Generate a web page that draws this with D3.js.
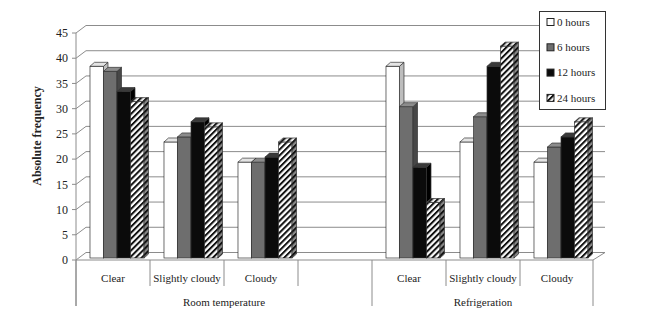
<!DOCTYPE html>
<html lang="en">
<head>
    <meta charset="UTF-8">
    <title>Absolute frequency by storage and turbidity</title>
    <script src="https://d3js.org/d3.v7.min.js"></script>
    <style>
        body { margin: 0; background: #fff; }
        text { font-family: "Liberation Serif", "DejaVu Serif", serif; fill: #222; }
    </style>
</head>
<body>
<div id="chart"></div>
<script>
// Data
const categories = ["Clear", "Slightly cloudy", "Cloudy", "", "Clear", "Slightly cloudy", "Cloudy"];
const groups = ["Room temperature", "Refrigeration"];
const groupSpans = [4, 3];
const series = ["0 hours", "6 hours", "12 hours", "24 hours"];
const h0 = [38, 23, 19, null, 38, 23, 19];
const h6 = [37, 24, 19, null, 30, 28, 22];
const h12 = [33, 27, 20, null, 18, 38, 24];
const h24 = [31, 26, 23, null, 11, 42, 27];
const yTicks = [0, 5, 10, 15, 20, 25, 30, 35, 40, 45];

const values = [h0, h6, h12, h24];

const W = 666, H = 312;
const svg = d3.select("#chart").append("svg").attr("width", W).attr("height", H);

// hatch patterns
const defs = svg.append("defs");
function hatch(id, bg) {
    const p = defs.append("pattern").attr("id", id)
        .attr("patternUnits", "userSpaceOnUse")
        .attr("width", 4.2).attr("height", 4.2)
        .attr("patternTransform", "rotate(45)");
    p.append("rect").attr("width", 4.2).attr("height", 4.2).attr("fill", bg);
    p.append("rect").attr("width", 2).attr("height", 4.2).attr("fill", "#111");
}
hatch("hatch", "#fff");
hatch("hatchSide", "#8a8a8a");
hatch("hatchTop", "#e8e8e8");

// fills: front, side, top
const styles = [
    { front: "#fff", side: "#bdbdbd", top: "#e4e4e4" },
    { front: "#6e6e6e", side: "#474747", top: "#8c8c8c" },
    { front: "#0b0b0b", side: "#000", top: "#3a3a3a" },
    { front: "url(#hatch)", side: "url(#hatchSide)", top: "url(#hatchTop)" }
];

// scales
const x0 = d3.scaleBand().domain(d3.range(categories.length)).range([76, 594])
    .paddingInner(0.27).paddingOuter(0.135);
const x1 = d3.scaleBand().domain(series).range([0, x0.bandwidth()]);
const y = d3.scaleLinear().domain([0, 45]).range([260, 33]);

// wall depth
const wallLeftDx = 10, wallRightDx = 12, wallDy = -7.5;
const gridColor = "#8c8c8c";
const xFrontL = 76, xFrontR = 593;

// back wall gridlines + side wall diagonals
const grid = svg.append("g");
yTicks.forEach(t => {
    grid.append("line")
        .attr("x1", xFrontL).attr("y1", y(t))
        .attr("x2", xFrontL + wallLeftDx).attr("y2", y(t) + wallDy)
        .attr("stroke", gridColor);
    grid.append("line")
        .attr("x1", xFrontL + wallLeftDx).attr("y1", y(t) + wallDy)
        .attr("x2", xFrontR + wallRightDx).attr("y2", y(t) + wallDy)
        .attr("stroke", gridColor);
});
// floor front edge and right edge
grid.append("line").attr("x1", xFrontL).attr("x2", xFrontR)
    .attr("y1", y(0)).attr("y2", y(0)).attr("stroke", gridColor);
grid.append("line").attr("x1", xFrontR).attr("y1", y(0))
    .attr("x2", xFrontR + wallRightDx).attr("y2", y(0) + wallDy).attr("stroke", gridColor);

// y axis
const yAxis = svg.append("g");
yAxis.append("line").attr("x1", xFrontL).attr("x2", xFrontL)
    .attr("y1", y(45)).attr("y2", 306).attr("stroke", gridColor);
yTicks.forEach(t => {
    yAxis.append("line").attr("x1", xFrontL - 4).attr("x2", xFrontL)
        .attr("y1", y(t)).attr("y2", y(t)).attr("stroke", gridColor);
    yAxis.append("text").attr("x", 68).attr("y", y(t))
        .attr("dy", "0.35em").attr("text-anchor", "end")
        .style("font-size", "12px").text(t);
});

svg.append("text")
    .attr("transform", "translate(41,136) rotate(-90)")
    .attr("text-anchor", "middle")
    .style("font-size", "12px").style("font-weight", "bold")
    .text("Absolute frequency");

// bars
const bdx = 4.5, bdy = -4, shiftX = 4, shiftY = -2;
const bars = svg.append("g");
categories.forEach((c, ci) => {
    series.forEach((s, si) => {
        const v = values[si][ci];
        if (v == null) return;
        const w = x1.bandwidth();
        const xl = x0(ci) + x1(s) + shiftX;
        const xr = xl + w;
        const yt = y(v) + shiftY;
        const yb = y(0) + shiftY;
        const st = styles[si];
        bars.append("rect").attr("x", xl).attr("y", yt)
            .attr("width", w).attr("height", yb - yt)
            .attr("fill", st.front).attr("stroke", "#333").attr("stroke-width", 0.7);
        bars.append("polygon")
            .attr("points", [[xr, yt], [xr + bdx, yt + bdy], [xr + bdx, yb + bdy], [xr, yb]].join(" "))
            .attr("fill", st.side).attr("stroke", "#333").attr("stroke-width", 0.7);
        bars.append("polygon")
            .attr("points", [[xl, yt], [xl + bdx, yt + bdy], [xr + bdx, yt + bdy], [xr, yt]].join(" "))
            .attr("fill", st.top).attr("stroke", "#333").attr("stroke-width", 0.7);
    });
});

// category axis
const step = x0.step();
const catAxis = svg.append("g");
let bigEdges = [0];
groupSpans.reduce((acc, n) => { bigEdges.push(acc + n); return acc + n; }, 0);
d3.range(categories.length + 1).forEach(i => {
    const xx = Math.min(76 + i * step, xFrontR);
    const big = bigEdges.includes(i);
    catAxis.append("line").attr("x1", xx).attr("x2", xx)
        .attr("y1", y(0)).attr("y2", big ? 306 : 286)
        .attr("stroke", gridColor);
});
categories.forEach((c, ci) => {
    catAxis.append("text")
        .attr("x", 76 + ci * step + step / 2).attr("y", 282)
        .attr("text-anchor", "middle").style("font-size", "11px").text(c);
});
groups.forEach((g, gi) => {
    const a = bigEdges[gi], b = bigEdges[gi + 1];
    catAxis.append("text")
        .attr("x", 76 + (a + b) / 2 * step).attr("y", 306)
        .attr("text-anchor", "middle").style("font-size", "11px").text(g);
});

// legend
const legend = svg.append("g");
legend.append("rect").attr("x", 539.5).attr("y", 11.5).attr("width", 66).attr("height", 98)
    .attr("fill", "#fff").attr("stroke", "#333");
series.forEach((s, si) => {
    const ly = 22 + si * 25.3;
    legend.append("rect").attr("x", 547).attr("y", ly - 3.5).attr("width", 7).attr("height", 7)
        .attr("fill", styles[si].front).attr("stroke", "#222").attr("stroke-width", 1);
    legend.append("text").attr("x", 557).attr("y", ly).attr("dy", "0.35em")
        .style("font-size", "11px").text(s);
});
</script>
</body>
</html>
